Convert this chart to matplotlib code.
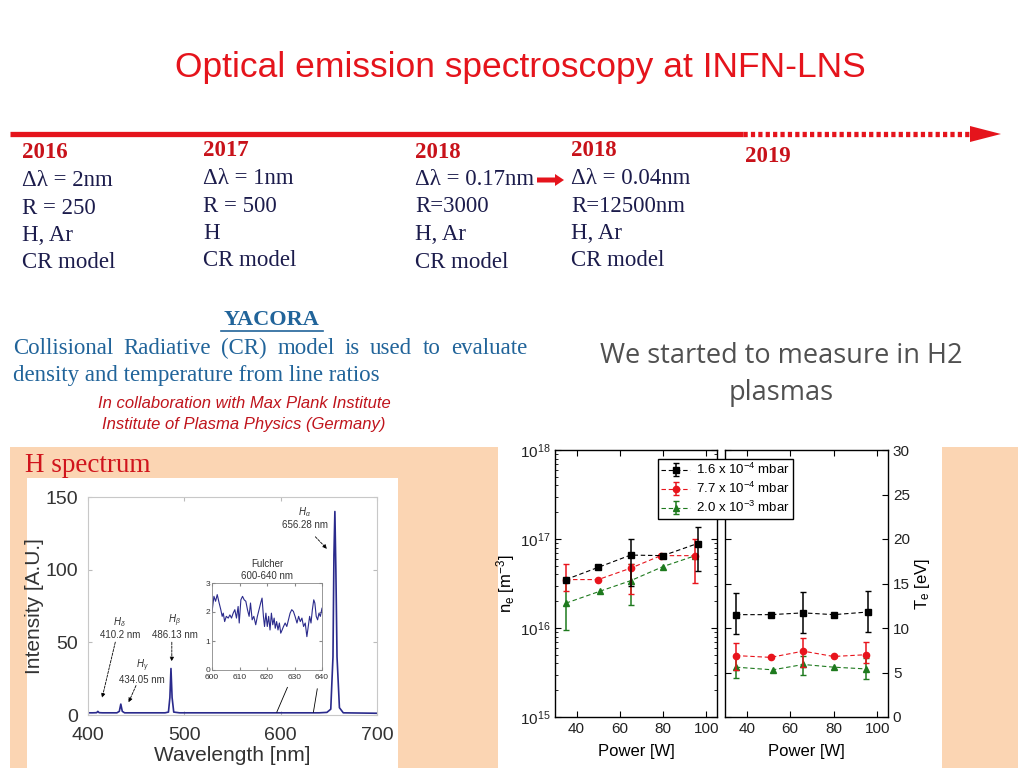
import numpy as np
import matplotlib.pyplot as plt
from matplotlib.patches import Rectangle, Polygon, FancyArrow

W, H = 1024, 768

RED = "#e5141c"
DARK_RED = "#c8121a"
NAVY = "#1c1c4c"
BLUE = "#21649a"
PEACH = "#fbd5b3"
SPEC_BLUE = "#2a2a8c"

plt.rcParams["font.family"] = "Liberation Sans"
plt.rcParams["mathtext.fontset"] = "custom"
plt.rcParams["mathtext.rm"] = "Liberation Sans"
plt.rcParams["mathtext.it"] = "Liberation Sans:italic"

# timeline columns
years = ["2016", "2017", "2018", "2018", "2019"]
bandwidth = ["Δλ = 2nm", "Δλ = 1nm", "Δλ = 0.17nm", "Δλ = 0.04nm"]
resolving = ["R = 250", "R = 500", "R=3000", "R=12500nm"]
species = ["H, Ar", "H", "H, Ar", "H, Ar"]
model = ["CR model", "CR model", "CR model", "CR model"]

# H spectrum (wavelength nm, intensity a.u.)
spec_wl = [400, 405, 409, 410.2, 411.5, 415, 430, 432.5, 434.05, 435.6, 438,
           480, 483.5, 485, 486.13, 487.3, 489, 495, 550, 600, 640, 648,
           652, 654.3, 655.3, 656.28, 657.3, 658.5, 661, 665, 700]
spec_int = [1.5, 1.5, 1.6, 2.5, 1.6, 1.5, 1.5, 2.5, 7.5, 2.5, 1.5,
            1.5, 2.0, 12, 32, 12, 2.0, 1.5, 1.5, 1.5, 1.5, 1.8,
            4, 40, 110, 140, 100, 40, 5, 1.5, 1.2]

# Fulcher band inset
fulcher_wl = [600.0, 600.7, 601.3, 601.9, 602.6, 603.2, 603.7, 604.1, 604.6, 605.2,
              605.9, 606.5, 607.1, 607.7, 608.3, 608.9, 609.5, 609.9, 610.5, 611.1,
              611.7, 612.3, 612.9, 613.5, 614.0, 614.6, 615.2, 615.9, 616.5, 617.1,
              617.7, 618.2, 618.7, 619.1, 619.6, 620.1, 620.6, 621.1, 621.6, 622.1,
              622.6, 623.0, 623.5, 624.0, 624.5, 625.0, 625.5, 626.0, 626.6, 627.2,
              627.8, 628.4, 629.0, 629.6, 630.2, 630.9, 631.5, 632.1, 632.7, 633.3,
              633.9, 634.5, 635.0, 635.5, 636.0, 636.5, 637.0, 637.4, 637.9, 638.4,
              638.9, 639.4, 640.0]
fulcher_int = [2.0, 2.54, 2.37, 2.6, 2.31, 2.08, 1.85, 1.96, 1.67, 1.85,
               1.79, 1.9, 1.79, 1.96, 2.08, 1.79, 2.19, 1.62, 2.42, 2.54,
               2.42, 2.37, 2.08, 1.85, 2.31, 1.73, 1.85, 1.56, 1.85, 2.08,
               2.31, 2.48, 1.85, 1.5, 1.96, 1.5, 1.85, 1.38, 1.96, 1.56,
               1.79, 1.44, 1.67, 1.38, 1.62, 1.27, 1.38, 1.5, 1.62, 1.5,
               1.73, 1.96, 2.08, 2.02, 1.85, 1.62, 1.85, 1.67, 1.79, 1.5,
               1.62, 1.15, 1.5, 1.85, 1.62, 2.08, 2.42, 2.31, 1.85, 1.73,
               1.96, 1.85, 2.13]

# electron density / temperature vs power, one entry per pressure
pressures = ["1.6 x 10$^{-4}$ mbar", "7.7 x 10$^{-4}$ mbar", "2.0 x 10$^{-3}$ mbar"]
series_colors = ["black", "#e8141c", "#1e7a1e"]
series_markers = ["s", "o", "^"]
nan = np.nan

ne_power = [[35, 50, 65, 80, 96], [35, 50, 65, 79, 95], [35, 51, 65, 80, 95]]
ne_val = [[3.5e16, 4.8e16, 6.6e16, 6.5e16, 8.9e16],
          [3.5e16, 3.5e16, 4.7e16, 6.5e16, 6.5e16],
          [1.9e16, 2.6e16, 3.4e16, 4.9e16, 6.5e16]]
ne_lo = [[nan, nan, 3.0e16, nan, 4.4e16],
         [2.6e16, nan, 2.4e16, nan, 3.2e16],
         [9.4e15, nan, 1.8e16, nan, nan]]
ne_hi = [[nan, nan, 9.9e16, nan, 1.35e17],
         [5.3e16, nan, 5.2e16, nan, 9.9e16],
         [3.5e16, nan, 5.2e16, nan, nan]]

te_power = [[35, 51, 66, 80, 96], [35, 51, 66, 80, 95], [35, 52, 66, 80, 95]]
te_val = [[11.5, 11.5, 11.7, 11.5, 11.8],
          [6.9, 6.7, 7.4, 6.8, 7.0],
          [5.6, 5.3, 5.9, 5.6, 5.4]]
te_lo = [[9.3, nan, 9.4, nan, 9.5],
         [5.3, nan, 5.6, nan, 6.1],
         [4.4, nan, 4.7, nan, 4.3]]
te_hi = [[13.9, nan, 14.0, nan, 14.2],
         [8.3, nan, 8.9, nan, 8.4],
         [6.8, nan, 6.9, nan, 6.6]]

fig = plt.figure(figsize=(W / 100, H / 100), dpi=100)


def px_axes(left, top, right, bottom):
    """Axes placed by pixel box on the 1024x768 slide."""
    return fig.add_axes([left / W, 1 - bottom / H, (right - left) / W, (bottom - top) / H])


# slide background, texts and shapes in pixel coordinates
bg = fig.add_axes([0, 0, 1, 1])
bg.set_xlim(0, W)
bg.set_ylim(H, 0)
bg.axis("off")

bg.add_patch(Rectangle((10, 447), 1008, 321, color=PEACH, lw=0))
bg.add_patch(Rectangle((498, 440), 444, 328, color="white", lw=0))
bg.add_patch(Rectangle((27, 478), 371, 290, color="white", lw=0))

bg.text(520, 68, "Optical emission spectroscopy at INFN-LNS", color=RED,
        fontsize=25.5, ha="center", va="center")

# timeline arrow
bg.plot([10, 743], [134, 134], color=RED, lw=3.8, solid_capstyle="butt")
bg.plot([743, 972], [134, 134], color=RED, lw=3.8, dashes=(0.8, 0.6))
bg.add_patch(Polygon([(970, 126), (1001, 134), (970, 142)], color=RED, lw=0))
bg.add_patch(FancyArrow(537, 180, 18, 0, width=5, head_width=12, head_length=9,
                        color=RED, lw=0))

col_x = [22, 203, 415, 571, 745]
year_y = [153, 151, 152, 151, 156]
serif = "Liberation Serif"
for i, yr in enumerate(years):
    bg.text(col_x[i], year_y[i], yr, color=DARK_RED, fontsize=16.5, fontweight="bold",
            family=serif, va="center")
for i in range(4):
    y0 = year_y[i]
    for k, line in enumerate([bandwidth[i], resolving[i], species[i], model[i]]):
        bg.text(col_x[i], y0 + 27.5 * (k + 1), line, color=NAVY, fontsize=16.5,
                family=serif, va="center")

# YACORA block
bg.text(272, 320, "YACORA", color=BLUE, fontsize=16, fontweight="bold",
        family=serif, ha="center", va="center")
bg.plot([221, 323], [331, 331], color=BLUE, lw=1.2)

words = "Collisional Radiative (CR) model is used to evaluate".split()
word_texts = [bg.text(13, 348, w, color=BLUE, fontsize=16.5, family=serif, va="center")
              for w in words]
renderer = fig.canvas.get_renderer()
widths = [t.get_window_extent(renderer).width for t in word_texts]
gap = (527 - 13 - sum(widths)) / (len(words) - 1)
x = 13
for t, w in zip(word_texts, widths):
    t.set_x(x)
    x += w + gap
bg.text(13, 376, "density and temperature from line ratios", color=BLUE, fontsize=16.5,
        family=serif, va="center")

bg.text(244, 404, "In collaboration with Max Plank Institute", color="#c0141c",
        fontsize=12, style="italic", ha="center", va="center")
bg.text(244, 425, "Institute of Plasma Physics (Germany)", color="#c0141c",
        fontsize=12, style="italic", ha="center", va="center")

bg.text(781, 356, "We started to measure in H2", color="#505050", fontsize=19.5,
        family="Open Sans", ha="center", va="center")
bg.text(781, 393, "plasmas", color="#505050", fontsize=19.5,
        family="Open Sans", ha="center", va="center")

bg.text(25, 465, "H spectrum", color="#d0141c", fontsize=19.5, family=serif, va="center")

# H spectrum
ax = px_axes(88, 497, 377, 715)
ax.plot(spec_wl, spec_int, color=SPEC_BLUE, lw=1.2)
ax.set_xlim(400, 700)
ax.set_ylim(0, 150)
ax.set_xticks([400, 500, 600, 700])
ax.set_yticks([0, 50, 100, 150])
ax.tick_params(direction="in", top=True, right=True, labelsize=14, colors="#bbbbbb",
               labelcolor="#333333", length=3)
ax.tick_params(axis="x", pad=9)
ax.tick_params(axis="y", pad=7)
for s in ax.spines.values():
    s.set_color("#c8c8c8")
ax.set_xlabel("Wavelength [nm]", fontsize=15, color="#333333", labelpad=1)
ax.set_ylabel("Intensity [A.U.]", fontsize=15, color="#333333", labelpad=1)

peak_labels = [("$H_\\delta$\n410.2 nm", (433, 60), (414, 10)),
               ("$H_\\gamma$\n434.05 nm", (456, 30), (441, 7)),
               ("$H_\\beta$\n486.13 nm", (490, 61), (487, 35)),
               ("$H_\\alpha$\n656.28 nm", (625, 136), (650, 113))]
for label, txt_xy, tip in peak_labels:
    ax.text(*txt_xy, label, fontsize=7, ha="center", va="center", color="#333333",
            linespacing=1.1)
for (label, txt_xy, tip), start in zip(peak_labels,
                                       [(429, 52), (451, 22), (487, 52), (634, 124)]):
    ax.annotate("", xy=tip, xytext=start,
                arrowprops=dict(arrowstyle="-|>", color="black", lw=0.6,
                                mutation_scale=6, linestyle=(0, (3, 1.5))))
ax.plot([607, 596], [19, 2], color="black", lw=0.6)
ax.plot([638, 634], [18, 2], color="black", lw=0.6)

inset = px_axes(212, 583, 322, 670)
inset.plot(fulcher_wl, fulcher_int, color=SPEC_BLUE, lw=0.8)
inset.set_xlim(600, 640)
inset.set_ylim(0, 3)
inset.set_xticks([600, 610, 620, 630, 640])
inset.set_yticks([0, 1, 2, 3])
inset.tick_params(direction="in", labelsize=6, length=2, pad=1.5, colors="#888888",
                  labelcolor="#333333", top=True, right=True)
inset.tick_params(axis="x", pad=3)
for s in inset.spines.values():
    s.set_color("#888888")
    s.set_linewidth(0.6)
inset.set_title("Fulcher\n600-640 nm", fontsize=7, color="#333333", pad=3,
                linespacing=1.2)

# electron density and temperature vs power
ax_ne = px_axes(555, 450, 717, 717)
ax_te = px_axes(725, 450, 888, 717)

handles = []
for i in range(3):
    for a, px, val, lo, hi in [(ax_ne, ne_power[i], ne_val[i], ne_lo[i], ne_hi[i]),
                               (ax_te, te_power[i], te_val[i], te_lo[i], te_hi[i])]:
        v = np.array(val)
        err = [v - np.array(lo), np.array(hi) - v]
        c = a.errorbar(px, val, yerr=err, color=series_colors[i], marker=series_markers[i],
                       ms=4.5, lw=0.8, ls=(0, (4, 2.5)), capsize=2.5, elinewidth=1.1,
                       capthick=1.0, zorder=3 - i)
        if a is ax_ne:
            handles.append(c)

ax_ne.set_yscale("log")
ax_ne.set_ylim(1e15, 1e18)
ax_ne.set_ylabel("n$_\\mathregular{e}$ [m$^\\mathregular{-3}$]", fontsize=12, labelpad=2)
ax_te.set_ylim(0, 30)
ax_te.set_yticks([0, 5, 10, 15, 20, 25, 30])
ax_te.yaxis.set_label_position("right")
ax_te.set_ylabel("T$_\\mathregular{e}$ [eV]", fontsize=12, labelpad=2)
ax_te.tick_params(axis="y", labelleft=False, labelright=True)

for a in (ax_ne, ax_te):
    a.set_xlim(30, 105)
    a.set_xticks([40, 60, 80, 100])
    a.set_xlabel("Power [W]", fontsize=12, labelpad=6)
    a.tick_params(which="both", direction="in", top=True, right=True, labelsize=11,
                  labelcolor="#222222", length=4)
    a.tick_params(which="minor", length=2)
    for s in a.spines.values():
        s.set_linewidth(1.0)

fig.legend(handles, pressures, loc="upper left",
           bbox_to_anchor=(658 / W, 1 - 459 / H), frameon=True, fancybox=False,
           edgecolor="black", fontsize=9.5, handlelength=2.2, borderpad=0.25,
           labelspacing=0.28, handletextpad=0.4, borderaxespad=0, framealpha=1)

fig.savefig("out.png", dpi=100)
